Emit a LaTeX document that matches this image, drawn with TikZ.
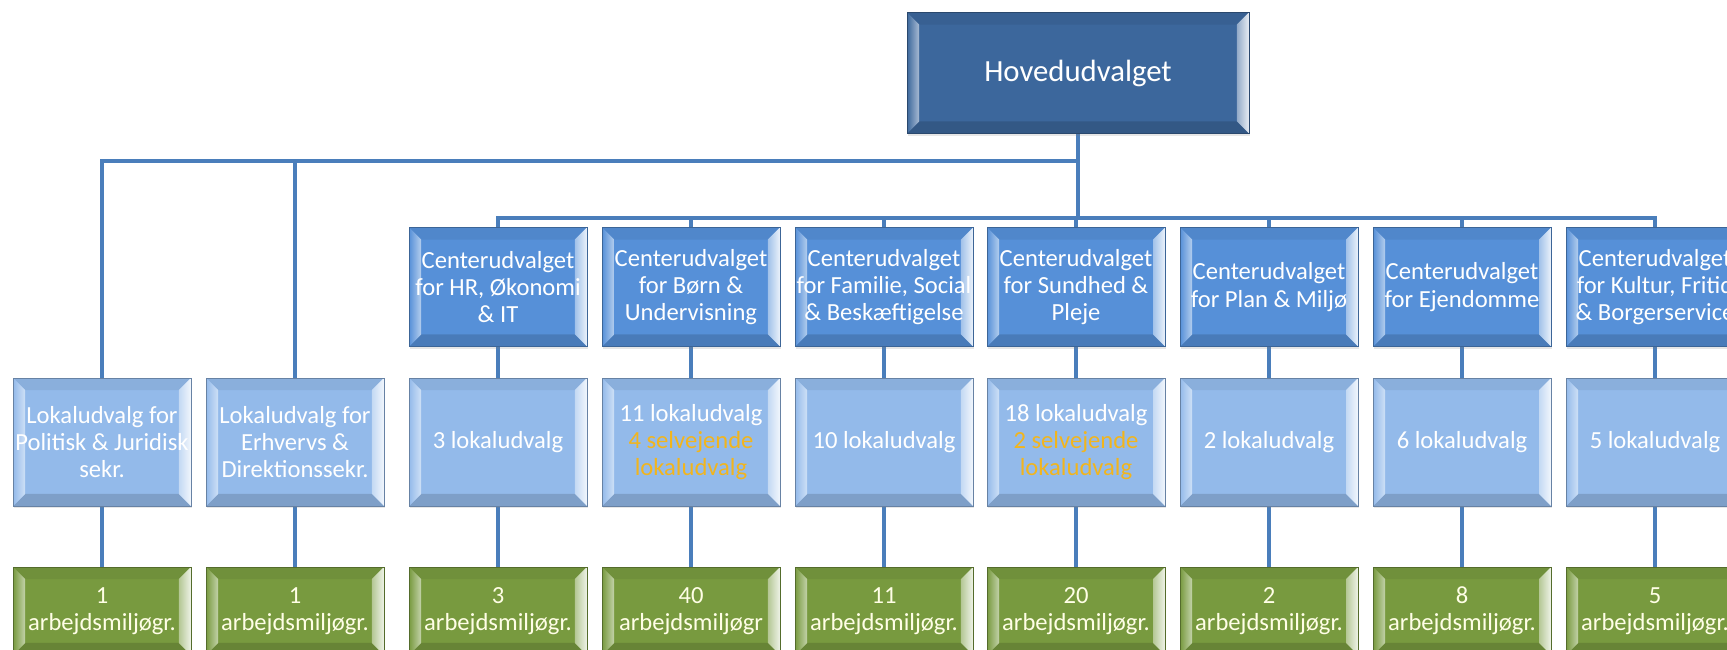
\documentclass[tikz,border=0pt]{standalone}
\usepackage{fontspec}
\setmainfont{Carlito}
\usepackage{tikz}
\usetikzlibrary{calc,shadows,backgrounds}
\definecolor{linec}{HTML}{4A7EBB}
\definecolor{hovedc}{HTML}{3C679C}
\definecolor{centc}{HTML}{5690D8}
\definecolor{lokalc}{HTML}{93BAEA}
\definecolor{amgc}{HTML}{789A3F}
\definecolor{selvc}{HTML}{F2B51D}
\newcommand{\selv}[1]{\textcolor{selvc}{#1}}
\tikzset{
  conn/.style={draw=linec, line width=2.8pt},
  bevel/.style={
    fill=#1, draw=#1!70!black, line width=0.4pt, inner sep=0pt, align=center,
    drop shadow={opacity=0.2, shadow xshift=0.6pt, shadow yshift=-1.2pt},
    path picture={
      \path (path picture bounding box.south west) coordinate (bsw)
            (path picture bounding box.north east) coordinate (bne)
            (bsw |- bne) coordinate (bnw)
            (bne |- bsw) coordinate (bse)
            ($(bsw)+(0.24cm,0.24cm)$) coordinate (isw)
            ($(bne)+(-0.24cm,-0.24cm)$) coordinate (ine)
            (isw |- ine) coordinate (inw)
            (ine |- isw) coordinate (ise);
      \fill[black, opacity=0.06] (bnw) -- (bne) -- (ine) -- (inw) -- cycle;
      \fill[black, opacity=0.14] (bsw) -- (bse) -- (ise) -- (isw) -- cycle;
      \shade[left color=#1, right color=#1!45!white] (bsw) -- (bnw) -- (inw) -- (isw) -- cycle;
      \shade[left color=#1!55!white, right color=#1!12!white] (bse) -- (bne) -- (ine) -- (ise) -- cycle;
    }
  },
  hoved/.style={bevel=hovedc, text=white, minimum width=6.84cm, minimum height=2.42cm,
    font=\fontsize{17.5}{21}\selectfont},
  cent/.style={bevel=centc, text=white, minimum width=3.56cm, minimum height=2.38cm,
    font=\fontsize{14}{15.5}\selectfont},
  lokal/.style={bevel=lokalc, text=white, minimum width=3.56cm, minimum height=2.56cm,
    font=\fontsize{14}{15.5}\selectfont},
  amg/.style={bevel=amgc, text=white!90!yellow, minimum width=3.56cm, minimum height=1.76cm,
    font=\fontsize{14}{15.5}\selectfont}
}
\begin{document}
\begin{tikzpicture}[x=0.02cm, y=0.02cm]
  \useasboundingbox (0,0) rectangle (1727,649);

  % top of the tree
  \node[hoved] (hoved) at (1078,576) {Hovedudvalget};

  % centre committees
  \node[cent] (c1) at (498,362) {Centerudvalget\\for HR, Økonomi\\\& IT};
  \node[cent] (c2) at (691,362) {Centerudvalget\\for Børn \&\\Undervisning};
  \node[cent] (c3) at (884,362) {Centerudvalget\\for Familie, Social\\\& Beskæftigelse};
  \node[cent] (c4) at (1076,362) {Centerudvalget\\for Sundhed \&\\Pleje};
  \node[cent] (c5) at (1269,362) {Centerudvalget\\for Plan \& Miljø};
  \node[cent] (c6) at (1462,362) {Centerudvalget\\for Ejendomme};
  \node[cent] (c7) at (1655,362) {Centerudvalget\\for Kultur, Fritid\\\& Borgerservice};

  % local committees
  \node[lokal] (la) at (102,207) {Lokaludvalg for\\Politisk \& Juridisk\\sekr.};
  \node[lokal] (lb) at (295,207) {Lokaludvalg for\\Erhvervs \&\\Direktionssekr.};
  \node[lokal] (l1) at (498,207) {3 lokaludvalg};
  \node[lokal] (l2) at (691,207) {11 lokaludvalg\\\selv{4 selvejende}\\\selv{lokaludvalg}};
  \node[lokal] (l3) at (884,207) {10 lokaludvalg};
  \node[lokal] (l4) at (1076,207) {18 lokaludvalg\\\selv{2 selvejende}\\\selv{lokaludvalg}};
  \node[lokal] (l5) at (1269,207) {2 lokaludvalg};
  \node[lokal] (l6) at (1462,207) {6 lokaludvalg};
  \node[lokal] (l7) at (1655,207) {5 lokaludvalg};

  % working environment groups
  \node[amg] (ga) at (102,38) {1\\arbejdsmiljøgr.};
  \node[amg] (gb) at (295,38) {1\\arbejdsmiljøgr.};
  \node[amg] (g1) at (498,38) {3\\arbejdsmiljøgr.};
  \node[amg] (g2) at (691,38) {40\\arbejdsmiljøgr};
  \node[amg] (g3) at (884,38) {11\\arbejdsmiljøgr.};
  \node[amg] (g4) at (1076,38) {20\\arbejdsmiljøgr.};
  \node[amg] (g5) at (1269,38) {2\\arbejdsmiljøgr.};
  \node[amg] (g6) at (1462,38) {8\\arbejdsmiljøgr.};
  \node[amg] (g7) at (1655,38) {5\\arbejdsmiljøgr.};

  % connectors behind the boxes
  \begin{scope}[on background layer]
    \coordinate (topbus) at (1078,488);
    \coordinate (midbus) at (1078,431);
    \foreach \n in {la,lb}
      \draw[conn] (hoved.south) -- (topbus) -| (\n.north);
    \foreach \i in {1,...,7}
      \draw[conn] (hoved.south) -- (midbus) -| (c\i.north);
    \foreach \i in {1,...,7}
      \draw[conn] (c\i.south) -- (l\i.north);
    \foreach \n in {a,b,1,2,3,4,5,6,7}
      \draw[conn] (l\n.south) -- (g\n.north);
  \end{scope}
\end{tikzpicture}
\end{document}
